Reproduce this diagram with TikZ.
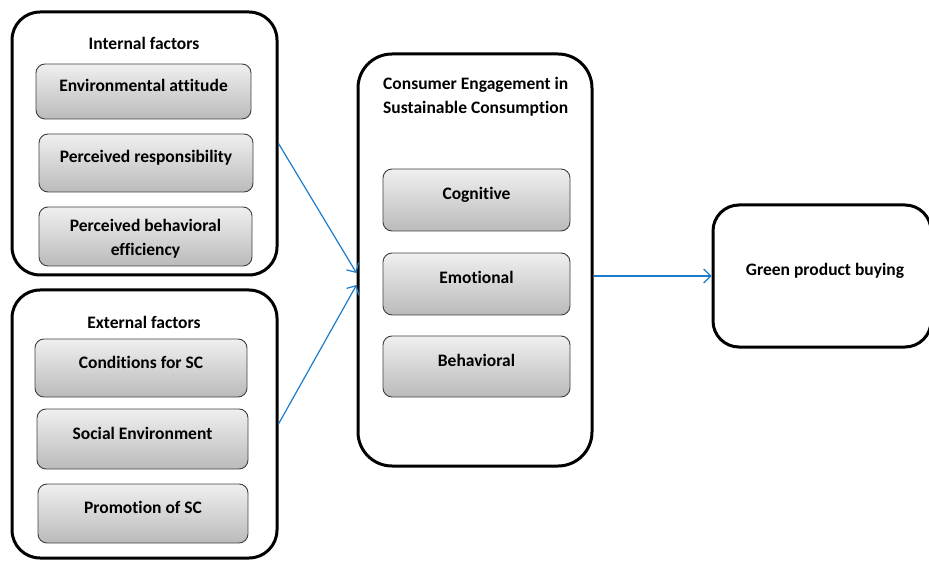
\documentclass[tikz,border=0pt]{standalone}
\usepackage{fontspec}
\setmainfont{Carlito}[Ligatures=NoCommon]
\usepackage{tikz}
\usetikzlibrary{calc}
\usetikzlibrary{arrows.meta}
\usepackage{xcolor}
\definecolor{linkblue}{RGB}{28,124,204}

\begin{document}
\begin{tikzpicture}[x=1pt, y=-1pt, >={Straight Barb[length=7pt,width=14pt]},
  font=\fontsize{17.5}{24}\selectfont\bfseries,
  group/.style={draw, line width=3pt, rounded corners=28pt, inner sep=0pt, text height=12pt, text depth=12pt},
  factor/.style={draw=black!75, line width=0.9pt, rounded corners=9pt, top color=black!6, bottom color=black!27, inner sep=0pt, text height=12pt, text depth=12pt},
  heading/.style={inner sep=0pt, anchor=base},
  link/.style={->, linkblue, line width=1.2pt}]

\useasboundingbox (0,0) rectangle (929,561);

% ulommat laatikot
\node [group, minimum width=265, minimum height=263] (internal) at (144.5,143.5) {};
\node [group, minimum width=265, minimum height=268] (external) at (144.5,424) {};
\node [group, minimum width=234, minimum height=412, rounded corners=34pt] (engage) at (475,260) {};
\node [group, minimum width=218, minimum height=142, rounded corners=26pt] (green) at (822,276) {\hspace{6pt}Green product buying};

\node [heading] (internal-title) at (144,50) {Internal factors};
\node [heading] (external-title) at (144,328) {External factors};
\node [heading, anchor=north west, align=left] (engage-title) at (383,77) {Consumer Engagement in\\Sustainable Consumption};

\foreach \x/\y/\w/\h/\l [count=\i] in {143.5/91.5/215/55/Environmental attitude, 146/163/214/58/Perceived responsibility}
  \node [factor, minimum width=\w, minimum height=\h] (internal-\i) at (\x,\y) {\l};

\node [factor, minimum width=213, minimum height=59, align=center, text height=45pt, text depth=6pt] (internal-3) at (145.5,236.5) {Perceived behavioral\\efficiency};

\foreach \x/\y/\w/\h/\l [count=\i] in {141/368/212/58/Conditions for SC, 142.5/439/211/60/Social Environment, 143/513.5/210/59/Promotion of SC}
  \node [factor, minimum width=\w, minimum height=\h] (external-\i) at (\x,\y) {\l};

\foreach \y/\h/\l [count=\i] in {200/62/Cognitive, 284/62/Emotional, 366.5/61/Behavioral}
  \node [factor, minimum width=187, minimum height=\h] (engage-\i) at (476.5,\y) {\l};

\draw [link] (internal.east) -- ([yshift=-13pt]engage.west);
\draw [link] (external.east) -- ([yshift=-25pt]engage.west);
\draw [link] (engage.east |- green.west) -- (green.west);

\end{tikzpicture}
\end{document}
